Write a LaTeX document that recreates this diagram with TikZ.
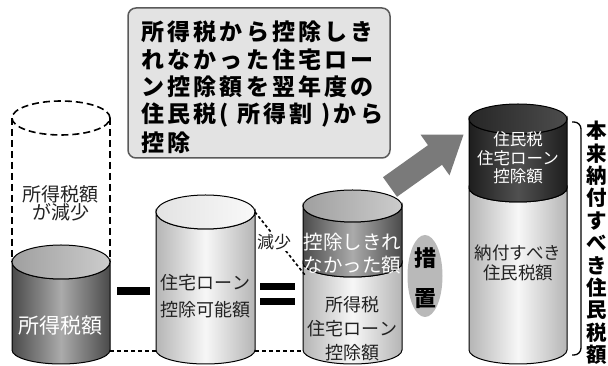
\documentclass[tikz,border=0pt]{standalone}
\usepackage{fontspec}
\setmainfont{Noto Sans CJK JP}
\newfontfamily\jpw{Noto Sans CJK JP}[LetterSpace=14]
\usetikzlibrary{shapes.geometric}
\definecolor{dkedge}{HTML}{4A4A4A}
\definecolor{dkmid}{HTML}{ABABAB}
\definecolor{ltedge}{HTML}{B5B5B5}
\definecolor{ltmid}{HTML}{F7F7F7}
\definecolor{bkedge}{HTML}{1E1E1E}
\definecolor{bkmid}{HTML}{505050}
\definecolor{boxfill}{HTML}{E3E3E3}
\definecolor{boxline}{HTML}{5A5A5A}
\definecolor{arrowgray}{HTML}{7A7A7A}
\definecolor{txt}{HTML}{222222}
\newcommand\cylsec[7]{%
  \path[#7] ({#1-#2},#3) -- ({#1-#2},#5)
    arc[start angle=180,end angle=360,x radius=#2,y radius=#6]
    -- ({#1+#2},#3)
    arc[start angle=0,end angle=-180,x radius=#2,y radius=#4] -- cycle;}
\tikzset{
  dark/.style={left color=dkedge,right color=dkedge,middle color=dkmid,draw=black,line width=1pt},
  light/.style={left color=ltedge,right color=ltedge,middle color=ltmid,draw=black,line width=1pt},
  black/.style={left color=bkedge,right color=bkedge,middle color=bkmid,draw=black,line width=1pt},
  darktop/.style={left color=gray!75,right color=gray!40,draw=black,line width=1pt},
  lighttop/.style={left color=gray!22,right color=gray!5,draw=black,line width=1pt},
  blacktop/.style={left color=black!85,right color=black!70,draw=black,line width=1pt},
  cyltext/.style={align=center,text=txt,inner sep=0pt},
  whitetext/.style={align=center,text=white,inner sep=0pt},
  dotline/.style={line width=1.6pt,dash pattern=on 4pt off 3pt},
  bar/.style={fill=black,draw=none},
  calltext/.style={anchor=west,inner sep=0pt,font=\jpw\bfseries\fontsize{23}{24}\selectfont,text=black}
}
\begin{document}
\begin{tikzpicture}[x=1pt,y=1pt]
\useasboundingbox (0,0) rectangle (608,366);
% callout box
\node[draw=boxline,fill=boxfill,line width=1.5pt,rounded corners=8pt,minimum width=262pt,minimum height=150pt,inner sep=0pt] (callout) at (259,283) {};
\node[calltext] (c1) at (141,334) {所得税から控除しき};
\node[calltext] (c2) at (141,306) {れなかった住宅ロー};
\node[calltext] (c3) at (141,279) {ン控除額を翌年度の};
\node[calltext] (c4) at (141,251) {住民税( 所得割 )から};
\node[calltext] (c5) at (141,223) {控除};
% arrow
\fill[arrowgray] (383,188.8) -- (428,220.8) -- (420.5,231.4) -- (463.5,231.3) -- (449.5,190.6) -- (442,201.2) -- (397,169.2) -- cycle;
% cylinder 1 (dashed + dark)
\draw[line width=1.6pt,dash pattern=on 7pt off 4pt] (61,248) ellipse[x radius=49,y radius=17];
\draw[line width=1.6pt,dash pattern=on 7pt off 4pt] (12,248) -- (12,104);
\draw[line width=1.6pt,dash pattern=on 7pt off 4pt] (110,248) -- (110,104);
\node[cyltext,font=\fontsize{19}{18}\selectfont] (t1a) at (61,163) {所得税額\\が減少};
\cylsec{61}{49}{104}{17}{16}{14}{dark}
\path[darktop] (61,104) ellipse[x radius=49,y radius=17];
\node[whitetext,font=\fontsize{21}{22}\selectfont] (t1b) at (61,40) {所得税額};
% cylinder 2
\cylsec{205.5}{49.5}{154}{17}{16}{14}{light}
\path[lighttop] (205.5,154) ellipse[x radius=49.5,y radius=17];
\node[cyltext,font=\fontsize{18}{27}\selectfont] (t2) at (205.5,70) {住宅ローン\\控除可能額};
% cylinder 3
\cylsec{352.5}{49.5}{103}{14}{16}{14}{light}
\cylsec{352.5}{49.5}{160}{16}{103}{14}{dark}
\path[darktop] (352.5,160) ellipse[x radius=49.5,y radius=16];
\node[whitetext,font=\fontsize{19.5}{23}\selectfont] (t3a) at (352.5,112) {控除しきれ\\なかった額};
\node[cyltext,font=\fontsize{18}{24}\selectfont] (t3b) at (352.5,37) {所得税\\住宅ローン\\控除額};
% cylinder 4
\cylsec{518}{49}{178}{14}{16}{14}{light}
\cylsec{518}{49}{247}{15}{178}{14}{black}
\path[blacktop] (518,247) ellipse[x radius=49,y radius=15];
\node[whitetext,font=\fontsize{16.5}{18.5}\selectfont] (t4a) at (518,208) {住民税\\住宅ローン\\控除額};
\node[cyltext,font=\fontsize{17.5}{20}\selectfont] (t4b) at (518,103) {納付すべき\\住民税額};
% connectors
\coordinate (d1) at (110,15);
\coordinate (d2) at (156,15);
\coordinate (d3) at (255,15);
\coordinate (d4) at (303,15);
\draw[dotline] (d1) -- (d2);
\draw[dotline] (d3) -- (d4);
\coordinate (g1) at (255,154);
\coordinate (g2) at (305,91);
\draw[line width=1.6pt,dash pattern=on 3pt off 2.5pt] (g1) -- (g2);
\node[fill=white,inner sep=1pt,text=txt,font=\fontsize{17}{17}\selectfont] (genshou) at (274,124) {減少};
% minus and equals
\path[bar] (117,71) rectangle (150,79);
\path[bar] (260,76) rectangle (295,83);
\path[bar] (260,61) rectangle (295,68);
% sochi
\node[ellipse,fill=gray!55,minimum width=35pt,minimum height=82pt,inner sep=0pt] (sochiE) at (425,90) {};
\node[align=center,inner sep=0pt,font=\bfseries\fontsize{22}{40}\selectfont,text=black] (sochi) at (425,88) {措\\置};
% bracket
\coordinate (b1) at (572,244);
\coordinate (b2) at (572,11);
\draw[line width=1.3pt,rounded corners=7pt] (b1) -- (581,244) -- (581,11) -- (b2);
\node[align=center,inner sep=0pt,font=\bfseries\fontsize{20.5}{22.4}\selectfont,text=black] (vert) at (596.5,123) {本\\来\\納\\付\\す\\べ\\き\\住\\民\\税\\額};
\end{tikzpicture}
\end{document}
